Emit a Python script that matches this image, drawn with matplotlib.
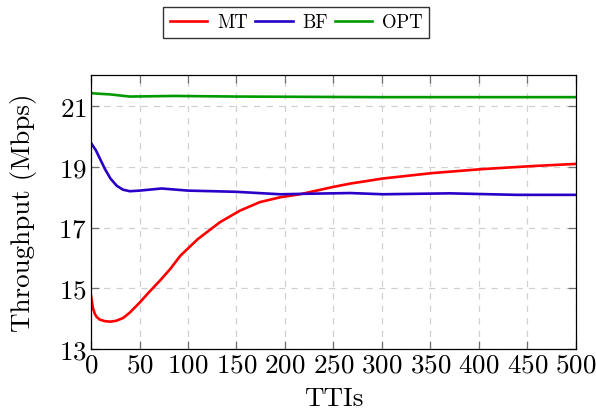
import matplotlib
matplotlib.use('Agg')
import matplotlib.pyplot as plt

# Throughput over TTIs
tti_mt = [0, 2, 4, 6, 9, 14, 19.6, 26, 33, 40, 50.5, 60, 71, 82, 92, 110, 133, 153.6,
          174, 195, 215.5, 249.5, 267, 301, 352.6, 404, 455.7, 500]
mt = [14.75, 14.35, 14.15, 14.05, 13.97, 13.92, 13.9, 13.93, 14.02, 14.2, 14.54, 14.88,
      15.25, 15.65, 16.07, 16.62, 17.18, 17.56, 17.84, 18.0, 18.1, 18.34, 18.45, 18.62,
      18.8, 18.93, 19.03, 19.1]

tti_bf = [0, 5, 14.4, 20, 26.5, 33, 40, 50, 72.8, 100, 126, 150, 195, 230, 267, 301,
          370, 439, 500]
bf = [19.79, 19.55, 18.93, 18.62, 18.38, 18.25, 18.2, 18.22, 18.29, 18.22, 18.2, 18.18,
      18.1, 18.12, 18.14, 18.1, 18.13, 18.08, 18.08]

tti_opt = [0, 20, 40, 86, 150, 300, 500]
opt = [21.43, 21.39, 21.32, 21.34, 21.32, 21.3, 21.3]

x_ticks = list(range(0, 501, 50))
y_ticks = [13, 15, 17, 19, 21]

plt.rcParams['font.family'] = ['cmr10', 'DejaVu Serif']
plt.rcParams['axes.formatter.use_mathtext'] = True

fig = plt.figure(figsize=(5.96, 4.14), dpi=100)
ax = fig.add_axes([0.1527, 0.1546, 0.8137, 0.6618])

ax.plot(tti_mt, mt, color='#ff0000', lw=1.9, label='MT')
ax.plot(tti_bf, bf, color='#2a00c8', lw=1.9, label='BF')
ax.plot(tti_opt, opt, color='#009a00', lw=1.9, label='OPT')

ax.set_xlim(0, 500)
ax.set_ylim(13, 22.03)
ax.set_xticks(x_ticks)
ax.set_yticks(y_ticks)
ax.grid(True, color='#d0d0d0', linestyle=(0, (5, 5)), lw=0.9)
ax.tick_params(direction='in', length=6, width=0.9, color='#707070',
               top=True, right=True, labelsize=19.5, pad=3)
for s in ax.spines.values():
    s.set_linewidth(0.9)

ax.set_xlabel('TTIs', fontsize=19.5, labelpad=7)
ax.set_ylabel('Throughput (Mbps)', fontsize=19.5, labelpad=15)

fig.legend(loc='upper center', bbox_to_anchor=(0.497, 0.981), ncol=3,
           fontsize=13.5, frameon=True, fancybox=False, edgecolor='black',
           handlelength=2.0, handletextpad=0.5, columnspacing=0.4,
           borderpad=0.35, borderaxespad=0)

fig.savefig('out.png', dpi=100)
